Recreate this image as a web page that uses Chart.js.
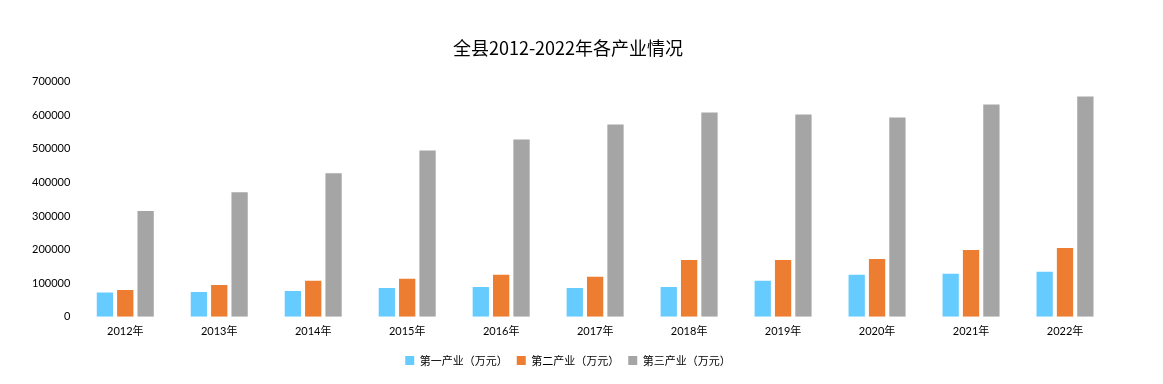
<!DOCTYPE html>
<html>
<head>
<meta charset="utf-8">
<script src="https://cdn.jsdelivr.net/npm/chart.js@4/dist/chart.umd.min.js"></script>
<style>
html,body{margin:0;padding:0;background:#fff;}
#wrap{width:1163px;height:384px;position:relative;}
</style>
</head>
<body>
<div id="wrap"><canvas id="c" width="1163" height="384"></canvas></div>
<script>
const categories = ['2012年','2013年','2014年','2015年','2016年','2017年','2018年','2019年','2020年','2021年','2022年'];
const seriesNames = ['第一产业（万元）','第二产业（万元）','第三产业（万元）'];
const primary   = [72000, 74000, 77000, 86000, 89000, 86000, 89000, 107000, 125000, 128000, 134000];
const secondary = [80000, 95000, 107000, 113000, 125000, 119000, 169000, 169000, 172000, 199000, 205000];
const tertiary  = [315000, 371000, 427000, 495000, 528000, 572000, 608000, 602000, 593000, 632000, 656000];
const colors = ['#66CCFF', '#ED7D31', '#A5A5A5'];

const fontFamily = 'Lato, "Noto Sans CJK SC", sans-serif';
Chart.defaults.font.family = fontFamily;
Chart.defaults.color = '#000';

new Chart(document.getElementById('c'), {
  type: 'bar',
  data: {
    labels: categories,
    datasets: [primary, secondary, tertiary].map((d, i) => ({
      label: seriesNames[i],
      data: d,
      backgroundColor: colors[i],
      borderWidth: 0,
      categoryPercentage: 0.65,
      barPercentage: 0.8
    }))
  },
  options: {
    responsive: false,
    animation: false,
    layout: { padding: { left: 24, right: 51, top: 37, bottom: 8 } },
    plugins: {
      title: {
        display: true,
        text: '全县2012-2022年各产业情况',
        font: { size: 18, weight: 'normal', family: '"Noto Sans CJK SC", sans-serif' },
        color: '#000',
        padding: { top: 0, bottom: 23 }
      },
      legend: {
        position: 'bottom',
        labels: {
          boxWidth: 9, boxHeight: 9,
          font: { size: 11, family: '"Noto Sans CJK SC", sans-serif' },
          color: '#000',
          padding: 9
        }
      },
      tooltip: { enabled: false }
    },
    scales: {
      x: {
        grid: { display: false, drawTicks: false },
        border: { display: false },
        ticks: { font: { size: 11 }, color: '#000', padding: 8, maxRotation: 0 }
      },
      y: {
        min: 0, max: 700000,
        grid: { display: false, drawTicks: false },
        border: { display: false },
        ticks: { stepSize: 100000, font: { size: 11 }, color: '#000', padding: 8,
                 callback: v => String(v) }
      }
    }
  }
});
</script>
</body>
</html>
